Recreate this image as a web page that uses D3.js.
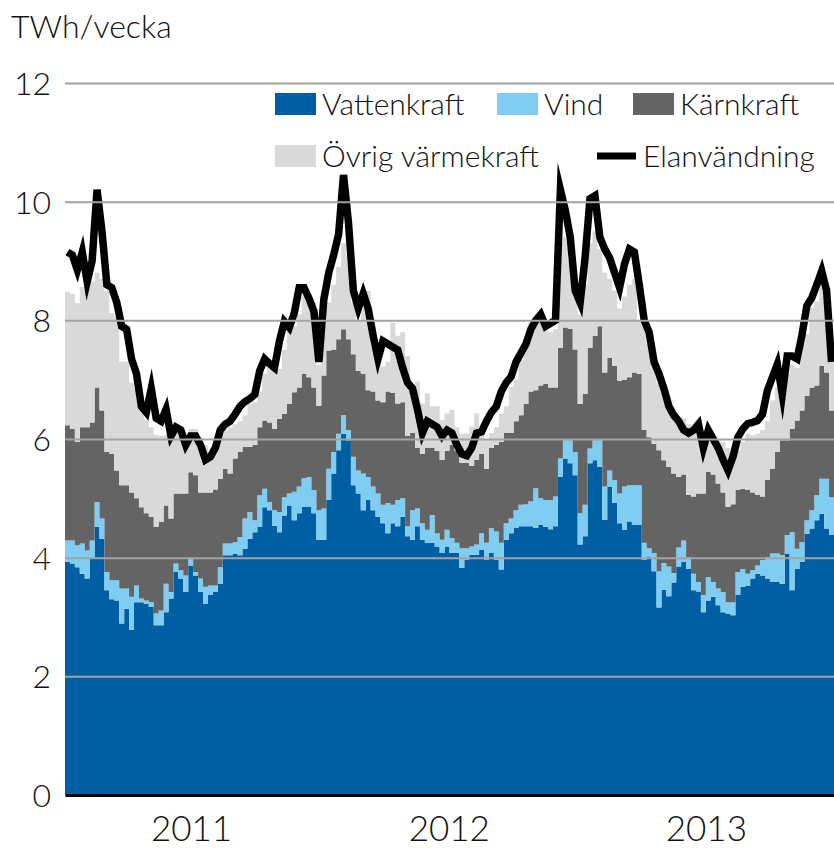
<!DOCTYPE html>
<html>
<head>
<meta charset="utf-8">
<script src="https://cdn.jsdelivr.net/npm/d3@7"></script>
<style>
  html, body { margin: 0; padding: 0; background: #fff; }
  svg { display: block; }
  text { font-family: Lato, "Open Sans", "DejaVu Sans", sans-serif; font-weight: 300; fill: #111; }
</style>
</head>
<body>
<svg id="chart" width="834" height="848"></svg>
<script>
// Weekly electricity balance for Sweden, first week of 2011 to last week of 2013 (TWh per week)
const firstWeek = new Date(2011, 0, 3);

const hydro = [
  3.93,3.90,3.84,3.73,3.65,3.98,4.52,4.32,3.45,3.30,3.28,2.89,3.14,2.78,3.25,3.25,3.22,3.17,2.86,2.86,
  3.08,3.31,3.76,3.65,3.42,3.87,3.70,3.42,3.22,3.37,3.42,3.56,4.04,4.04,4.07,4.04,4.15,4.32,4.43,4.52,
  4.85,4.80,4.54,4.43,4.71,4.88,4.63,4.75,4.86,4.86,4.75,4.30,
  4.30,4.97,5.42,5.81,6.09,5.98,5.22,5.08,4.80,4.97,4.80,4.69,4.58,4.41,4.58,4.53,4.69,4.36,4.30,4.53,
  4.30,4.25,4.25,4.19,4.08,4.19,4.08,4.08,3.83,3.97,4.05,4.05,4.13,3.97,4.08,3.97,3.80,4.30,4.41,4.50,
  4.53,4.53,4.53,4.50,4.55,4.52,4.48,4.53,5.36,5.67,5.59,5.39,
  4.22,4.36,5.59,5.64,5.53,4.64,5.20,4.92,4.58,4.47,4.61,4.55,4.55,3.97,4.02,3.77,3.16,3.46,3.35,3.58,
  3.85,3.93,3.81,3.45,3.43,3.08,3.28,3.34,3.20,3.08,3.06,3.03,3.37,3.51,3.53,3.65,3.73,3.70,3.65,3.59,
  3.59,3.56,4.07,3.45,3.81,3.93,4.40,4.49,4.63,4.74,4.49,4.38
];

const wind = [
  0.36,0.39,0.37,0.51,0.47,0.31,0.42,0.34,0.31,0.32,0.34,0.59,0.34,0.56,0.28,0.06,0.06,0.08,0.20,0.25,
  0.48,0.11,0.14,0.14,0.28,0.11,0.06,0.23,0.29,0.16,0.11,0.28,0.20,0.20,0.19,0.31,0.51,0.45,0.20,0.53,
  0.31,0.14,0.26,0.34,0.31,0.20,0.48,0.45,0.48,0.50,0.39,0.50,
  0.53,0.53,0.36,0.28,0.31,0.17,0.48,0.39,0.62,0.39,0.40,0.39,0.31,0.51,0.31,0.44,0.31,0.17,0.50,0.30,
  0.28,0.22,0.47,0.22,0.22,0.28,0.25,0.17,0.33,0.19,0.14,0.17,0.28,0.28,0.42,0.47,0.45,0.28,0.25,0.30,
  0.36,0.37,0.42,0.67,0.45,0.45,0.49,0.50,0.31,0.31,0.39,0.39,
  0.53,0.53,0.25,0.34,0.45,0.56,0.27,0.39,0.50,0.73,0.61,0.67,0.67,0.28,0.14,0.31,0.61,0.45,0.50,0.16,
  0.32,0.36,0.20,0.28,0.16,0.29,0.39,0.25,0.28,0.34,0.19,0.22,0.39,0.30,0.20,0.14,0.14,0.26,0.36,0.48,
  0.48,0.48,0.31,0.98,0.34,0.33,0.23,0.31,0.42,0.59,0.84,0.64
];

const nuclear = [
  1.94,1.88,1.74,1.96,2.08,1.99,1.93,1.82,2.02,2.13,1.85,1.74,1.74,1.76,1.47,1.54,1.47,1.44,1.46,1.49,
  1.32,1.24,1.18,1.29,1.38,1.46,1.63,1.45,1.59,1.57,1.62,1.49,1.26,1.18,1.41,1.43,1.21,1.10,1.27,1.15,
  1.15,1.34,1.37,1.57,1.40,1.51,1.68,1.67,1.76,1.68,1.73,1.76,
  2.24,1.99,1.73,1.59,1.45,1.53,1.73,1.68,1.68,1.46,1.60,1.57,1.73,1.88,1.89,1.63,1.62,1.52,1.30,1.02,
  1.17,1.38,1.13,1.39,1.35,1.33,1.57,1.55,1.44,1.44,1.36,1.43,1.34,1.25,1.35,1.46,1.70,1.52,1.44,1.50,
  1.51,1.69,1.85,1.65,1.90,1.96,1.90,1.84,1.87,1.90,1.88,1.73,
  1.84,1.87,1.70,1.76,1.92,1.92,1.90,1.92,1.90,1.80,1.82,1.90,1.88,1.90,1.87,1.84,2.04,1.73,1.68,1.68,
  1.19,1.11,1.05,1.30,1.49,1.71,1.78,1.81,1.77,1.68,1.61,1.65,1.38,1.35,1.41,1.31,1.19,1.07,1.30,1.43,
  1.71,1.94,1.60,1.74,2.16,2.22,2.10,2.07,1.85,1.90,1.79,1.46
];

const otherThermal = [
  2.25,2.28,2.34,2.36,2.40,2.37,1.93,2.22,2.72,2.37,2.58,2.08,2.08,1.85,1.86,1.75,1.57,1.51,1.55,1.45,
  1.19,1.34,1.07,1.02,0.92,0.73,0.78,0.90,0.80,0.68,0.70,0.72,0.65,0.78,0.58,0.52,0.53,0.73,0.72,0.60,
  0.79,0.92,1.01,0.84,1.08,1.26,1.11,1.23,1.30,1.41,1.43,0.69,
  0.83,0.81,1.09,1.22,1.45,1.42,0.87,0.85,1.10,1.68,0.75,0.75,0.60,0.50,1.18,1.14,1.18,1.35,0.82,1.12,
  0.85,0.92,0.70,0.75,0.67,0.63,0.59,0.40,0.49,0.49,0.66,0.78,0.40,0.50,0.25,0.30,0.48,0.45,0.78,0.70,
  0.93,0.96,1.16,1.24,1.20,0.97,0.93,0.98,1.76,1.52,1.14,0.89,
  1.51,1.84,1.76,1.76,1.30,1.68,1.33,1.27,1.22,1.40,1.56,1.58,0.90,1.75,1.57,1.38,1.14,1.21,1.07,0.98,
  0.99,0.95,1.19,1.17,1.02,0.97,0.75,0.70,0.75,0.85,0.99,0.83,0.66,0.79,0.95,0.96,1.03,1.12,0.99,1.15,
  1.09,1.12,1.12,1.09,0.89,1.12,1.04,1.34,1.42,1.43,1.32,1.12
];

const consumption = [
  9.15,9.10,8.85,9.15,8.65,9.00,10.20,9.50,8.60,8.55,8.30,7.90,7.85,7.35,7.10,6.55,6.45,6.85,6.35,6.30,
  6.50,6.05,6.20,6.15,5.90,6.05,6.05,5.90,5.65,5.70,5.85,6.15,6.25,6.30,6.42,6.55,6.63,6.68,6.75,7.15,
  7.35,7.27,7.20,7.65,7.98,7.88,8.12,8.55,8.55,8.37,8.15,7.30,
  8.35,8.80,9.10,9.45,10.45,9.65,8.50,8.20,8.45,8.20,7.75,7.35,7.65,7.60,7.55,7.50,7.20,6.95,6.85,6.50,
  6.10,6.30,6.25,6.20,6.05,6.15,6.10,5.90,5.75,5.72,5.85,6.10,6.12,6.30,6.45,6.55,6.80,6.95,7.05,7.30,
  7.45,7.60,7.85,8.00,8.10,7.90,7.95,8.00,10.20,9.85,9.40,8.50,
  8.30,9.05,10.05,10.10,9.40,9.20,9.05,8.80,8.55,8.95,9.20,9.15,8.60,8.00,7.80,7.30,7.10,6.85,6.55,6.40,
  6.30,6.15,6.10,6.15,6.25,5.85,6.15,6.00,5.85,5.65,5.47,5.70,6.03,6.17,6.26,6.28,6.31,6.42,6.82,7.04,
  7.26,6.75,7.40,7.40,7.35,7.75,8.25,8.38,8.60,8.83,8.50,7.30
];

const seriesKeys = ["hydro", "wind", "nuclear", "otherThermal"];
const seriesNames = ["Vattenkraft", "Vind", "Kärnkraft", "Övrig värmekraft"];
const seriesColors = ["#005ea3", "#7fcdf3", "#646464", "#d9d9d9"];
const lineName = "Elanvändning";
const yTicks = [0, 2, 4, 6, 8, 10, 12];
const yearLabels = [2011, 2012, 2013];
const unitLabel = "TWh/vecka";

const weekDate = i => d3.timeDay.offset(firstWeek, 7 * i);
const rows = hydro.map((v, i) => ({
  date: weekDate(i),
  hydro: v,
  wind: wind[i],
  nuclear: nuclear[i],
  otherThermal: otherThermal[i]
}));
const lastDate = weekDate(rows.length);

const svg = d3.select("#chart");
const margin = { left: 65, right: 0, top: 83, bottom: 53 };
const W = 834, H = 848;

const x = d3.scaleTime()
  .domain([firstWeek, lastDate])
  .range([margin.left, W - margin.right]);
const y = d3.scaleLinear()
  .domain([0, 12])
  .range([H - margin.bottom, margin.top]);

svg.append("defs").append("clipPath").attr("id", "plotClip")
  .append("rect")
  .attr("x", margin.left - 2).attr("y", 0)
  .attr("width", W - margin.left - margin.right + 2).attr("height", H - margin.bottom);

// Stacked weekly generation as steps
const stacked = d3.stack().keys(seriesKeys)(rows);
const area = d3.area()
  .curve(d3.curveStepAfter)
  .x(d => x(d.data.date))
  .y0(d => y(d[0]))
  .y1(d => y(d[1]));

const plot = svg.append("g").attr("clip-path", "url(#plotClip)");
plot.selectAll("path.layer")
  .data(stacked)
  .join("path")
  .attr("class", "layer")
  .attr("fill", (d, i) => seriesColors[i])
  .attr("d", layer => {
    const pts = layer.slice();
    const last = layer[layer.length - 1];
    const tail = [last[0], last[1]];
    tail.data = { date: lastDate };
    pts.push(tail);
    return area(pts);
  });

// Horizontal grid lines above the areas
const grid = svg.append("g")
  .attr("transform", `translate(${margin.left},0)`)
  .call(d3.axisLeft(y)
    .tickValues(yTicks.filter(t => t > 0))
    .tickSize(-(W - margin.left - margin.right))
    .tickFormat(""));
grid.select(".domain").remove();
grid.selectAll(".tick line").attr("stroke", "#a3a3a3").attr("stroke-width", 2);

// Consumption line through the middle of each week
const line = d3.line()
  .x((d, i) => x(d3.timeHour.offset(weekDate(i), 84)))
  .y(d => y(d));
plot.append("path")
  .datum(consumption)
  .attr("fill", "none")
  .attr("stroke", "#000")
  .attr("stroke-width", 7.5)
  .attr("stroke-linejoin", "miter")
  .attr("stroke-miterlimit", 10)
  .attr("d", line);

// Y axis labels
const yAxis = svg.append("g")
  .attr("transform", `translate(51,0)`)
  .call(d3.axisLeft(y).tickValues(yTicks).tickSize(0).tickPadding(0).tickFormat(d3.format("d")));
yAxis.select(".domain").remove();
yAxis.selectAll("text").style("font-size", "32px").attr("dy", "0.36em");

// X axis: baseline and year labels
const xAxis = svg.append("g")
  .attr("transform", `translate(0,${y(0)})`)
  .call(d3.axisBottom(x)
    .tickValues(yearLabels.map(yr => new Date(yr, 6, 1)))
    .tickSize(0)
    .tickPadding(21)
    .tickFormat(d3.timeFormat("%Y")));
xAxis.select(".domain").attr("stroke", "#000").attr("stroke-width", 3);
xAxis.selectAll("text").style("font-size", "35px");

// Unit label
svg.append("text")
  .attr("x", 11).attr("y", 38)
  .style("font-size", "32px")
  .text(unitLabel);

// Legend
const legend = svg.append("g");
const legendItems = [
  { name: seriesNames[0], color: seriesColors[0], x: 275, y: 104, kind: "rect" },
  { name: seriesNames[1], color: seriesColors[1], x: 497, y: 104, kind: "rect" },
  { name: seriesNames[2], color: seriesColors[2], x: 633, y: 104, kind: "rect" },
  { name: seriesNames[3], color: seriesColors[3], x: 275, y: 156, kind: "rect" },
  { name: lineName, color: "#000", x: 597, y: 156, kind: "line" }
];
legendItems.forEach(it => {
  const g = legend.append("g").attr("transform", `translate(${it.x},${it.y})`);
  if (it.kind === "rect") {
    g.append("rect").attr("x", 0).attr("y", -11).attr("width", 41).attr("height", 22).attr("fill", it.color);
  } else {
    g.append("line").attr("x1", 0).attr("x2", 39).attr("y1", 0).attr("y2", 0)
      .attr("stroke", it.color).attr("stroke-width", 7);
  }
  g.append("text")
    .attr("x", it.kind === "rect" ? 47 : 46)
    .attr("y", 0)
    .attr("dy", "0.36em")
    .style("font-size", "30px")
    .text(it.name);
});
</script>
</body>
</html>
